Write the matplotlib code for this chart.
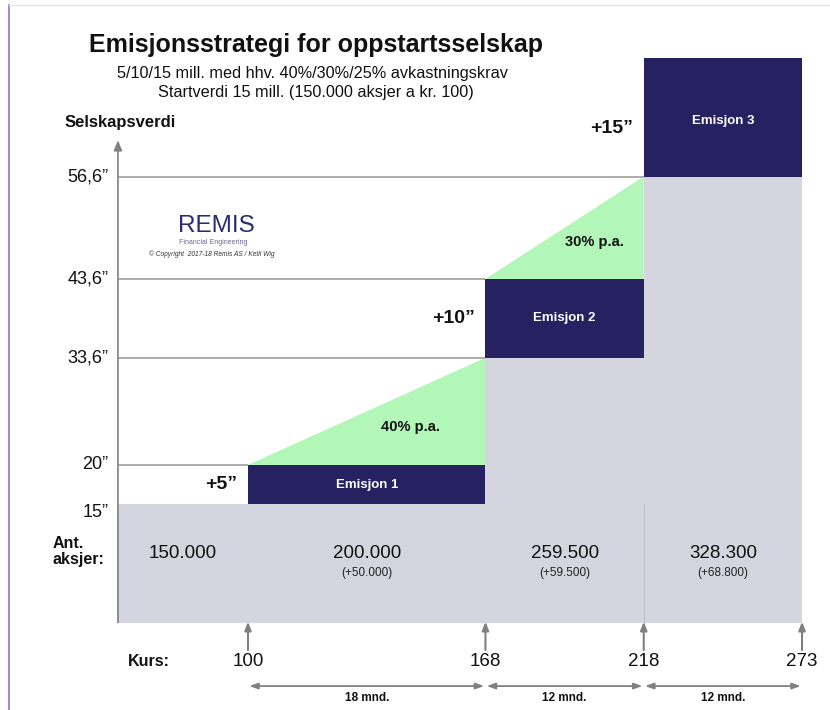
import matplotlib
matplotlib.use("Agg")
import matplotlib.pyplot as plt
from matplotlib.patches import Polygon

plt.rcParams['font.family'] = ['Liberation Sans', 'DejaVu Sans']

# ---------------- data ----------------
months = [18, 12, 12]                 # duration of each period
kurs = [100, 168, 218, 273]           # share price at each emission time
emisjon = [5, 10, 15]                 # emission size (mill.)
verdi_før = [15, 33.6, 56.6]          # company value before emission
avkastning = ["40% p.a.", "30% p.a."]
aksjer = ["150.000", "200.000", "259.500", "328.300"]
nye_aksjer = ["", "(+50.000)", "(+59.500)", "(+68.800)"]
ytick_vals = [15, 20, 33.6, 43.6, 56.6]
ytick_labels = ["15\u201d", "20\u201d", "33,6\u201d", "43,6\u201d", "56,6\u201d"]
emisjon_labels = ["Emisjon 1", "Emisjon 2", "Emisjon 3"]
pluss_labels = ["+5\u201d", "+10\u201d", "+15\u201d"]
mnd_labels = ["18 mnd.", "12 mnd.", "12 mnd."]

NAVY = "#262262"
GRAY_FILL = "#d4d5df"
GREEN = "#b3f7b8"
LINE = "#a6a6a6"
AX = "#808080"

t = [0]
for m in months:
    t.append(t[-1] + m)
verdi_etter = [v + e for v, e in zip(verdi_før, emisjon)]
x_left = -9.86

fig = plt.figure(figsize=(8.3, 7.1), dpi=100)
ax = fig.add_axes([0, 0, 1, 1])
ax.set_xlim(-18.80, 44.12)
ax.set_ylim(-11.10, 79.0)
ax.axis("off")

# gray value area (steps)
lefts = [x_left] + t[1:3]
rights = t[1:4]
ax.bar(lefts, verdi_før, width=[r - l for l, r in zip(lefts, rights)], align="edge",
       color=GRAY_FILL, linewidth=0, zorder=1)
ax.vlines(t[2], 0, verdi_før[0], color="#bcbdca", lw=0.8, zorder=2)

# emission bars
ax.bar(t[:3], emisjon, width=months, bottom=verdi_før, align="edge",
       color=NAVY, linewidth=0, zorder=3)

# growth triangles
for i in range(2):
    tri = Polygon([(t[i], verdi_etter[i]), (t[i + 1], verdi_før[i + 1]),
                   (t[i + 1], verdi_etter[i])], closed=True, color=GREEN, lw=0, zorder=2)
    ax.add_patch(tri)
    cx = (t[i] + 2 * t[i + 1]) / 3 + 0.3
    cy = (2 * verdi_etter[i] + verdi_før[i + 1]) / 3 + 0.3
    ax.text(cx, cy, avkastning[i], ha="center", va="center", fontsize=10.5,
            fontweight="bold", color="#111111", zorder=5)

# horizontal reference lines
ends = {verdi_etter[0]: t[0], verdi_før[1]: t[1], verdi_etter[1]: t[1], verdi_før[2]: t[2]}
for lvl, xe in ends.items():
    ax.hlines(lvl, x_left, xe, color=LINE, lw=1.3, zorder=2)

# y axis with arrow
ax.annotate("", xy=(x_left, 61.2), xytext=(x_left, 0),
            arrowprops=dict(arrowstyle="-|>,head_length=0.6,head_width=0.25",
                            color=AX, lw=1.2, shrinkA=0, shrinkB=0), zorder=4)
for v, lab in zip(ytick_vals, ytick_labels):
    dy = -1.1 if v == 15 else 0
    ax.text(x_left - 0.7, v + dy, lab, ha="right", va="center", fontsize=13, color="#111111")
ax.text(-9.7, 63.4, "Selskapsverdi", ha="center", va="center", fontsize=12,
        fontweight="bold", color="#111111")

# emission labels
for i in range(3):
    ax.text((t[i] + t[i + 1]) / 2, verdi_før[i] + emisjon[i] / 2 - (0.4 if i == 2 else 0),
            emisjon_labels[i], ha="center", va="center", fontsize=9.5, fontweight="bold",
            color="white", zorder=5)
    ax.text(t[i] - 0.8, verdi_før[i] + emisjon[i] / 2 - (1.4 if i == 2 else 0), pluss_labels[i],
            ha="right", va="center", fontsize=14, fontweight="bold", color="#111111", zorder=5)

# share counts
centers = [(x_left + t[0]) / 2] + [(t[i] + t[i + 1]) / 2 for i in range(3)]
for c, a, n in zip(centers, aksjer, nye_aksjer):
    ax.text(c, 8.8, a, ha="center", va="center", fontsize=13.5, color="#111111")
    if n:
        ax.text(c, 6.3, n, ha="center", va="center", fontsize=8.5, color="#222222")
ax.text(-14.85, 9.0, "Ant.\naksjer:", ha="left", va="center", fontsize=11.5,
        fontweight="bold", color="#111111", linespacing=1.1, multialignment="left")

# kurs arrows and labels
for ti, k in zip(t, kurs):
    ax.annotate("", xy=(ti, 0.1), xytext=(ti, -3.5),
                arrowprops=dict(arrowstyle="-|>,head_length=0.5,head_width=0.2",
                                color=AX, lw=1.5, shrinkA=0, shrinkB=0))
    ax.text(ti, -5.0, str(k), ha="center", va="center", fontsize=13.5, color="#111111")
ax.text(-7.5, -5.0, "Kurs:", ha="center", va="center", fontsize=11.5,
        fontweight="bold", color="#111111")

# period arrows
for i in range(3):
    ax.annotate("", xy=(t[i + 1] - 0.1, -8.06), xytext=(t[i] + 0.1, -8.06),
                arrowprops=dict(arrowstyle="<|-|>,head_length=0.5,head_width=0.18",
                                color=AX, lw=1.3, shrinkA=0, shrinkB=0))
    ax.text((t[i] + t[i + 1]) / 2, -9.6, mnd_labels[i], ha="center", va="center",
            fontsize=8.5, fontweight="bold", color="#111111")

# title block
fig.text(0.381, 0.937, "Emisjonsstrategi for oppstartsselskap", ha="center", va="center",
         fontsize=18, fontweight="bold", color="#111111")
fig.text(0.376, 0.896, "5/10/15 mill. med hhv. 40%/30%/25% avkastningskrav", ha="center",
         va="center", fontsize=11.7, color="#111111")
fig.text(0.380, 0.870, "Startverdi 15 mill. (150.000 aksjer a kr. 100)", ha="center",
         va="center", fontsize=11.7, color="#111111")

# logo
fig.text(0.261, 0.682, "REMIS", ha="center", va="center", fontsize=17.5, color="#2e2a6e",
         fontweight="medium")
fig.text(0.257, 0.658, "Financial Engineering", ha="center", va="center", fontsize=5,
         color="#6a6590")
fig.text(0.255, 0.642, "\u00a9 Copyright  2017-18 Remis AS / Ketil Wig", ha="center",
         va="center", fontsize=4.8, style="italic", color="#333333")

# frame lines
fig.add_artist(plt.Line2D([0.0108, 0.0108], [0, 0.993], color="#9b6fc2", lw=1.2))
fig.add_artist(plt.Line2D([0.0108, 1], [0.993, 0.993], color="#e4e4e4", lw=1.0))

fig.savefig("out.png", dpi=100)
